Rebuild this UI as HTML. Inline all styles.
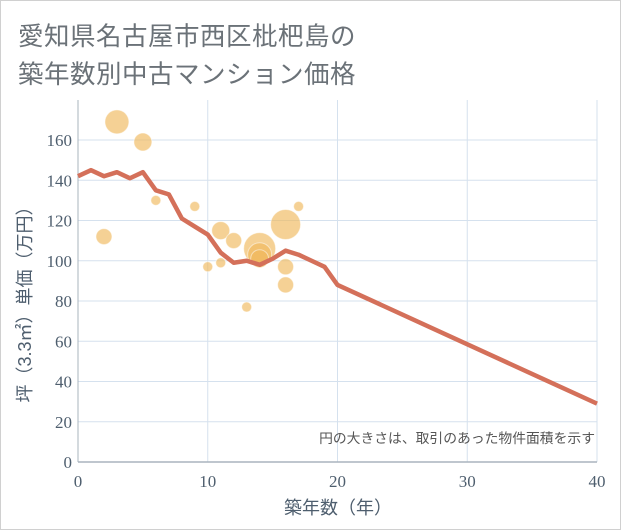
<!DOCTYPE html>
<html><head><meta charset="utf-8"><style>
html,body{margin:0;padding:0;background:#fff;}
#wrap{position:relative;width:619px;height:528px;border:1px solid #d0d0d0;background:#fff;overflow:hidden;}
.title{position:absolute;left:17px;font:25.5px "Liberation Sans","Noto Sans CJK JP",sans-serif;color:#6b7278;letter-spacing:0.5px;}
</style></head><body>
<div id="wrap">
<div class="title" style="top:15px">愛知県名古屋市西区枇杷島の</div>
<div class="title" style="top:53px">築年数別中古マンション価格</div>
<svg id="chart" width="621" height="530" style="position:absolute;left:-1px;top:-1px"></svg>
</div>
<script>
const xTicks=[0,10,20,30,40];
const yTicks=[0,20,40,60,80,100,120,140,160];
const lineYears=[0,1,2,3,4,5,6,7,8,9,10,11,12,13,14,15,16,17,18,19,20,40];
const linePrices=[142,145,142,144,141,144,135,133,121,117,113,104,99,100,98,101,105,103,100,97,88,29];
const bubbleYears=[3,5,2,6,9,11,12,10,11,13,14,14,14,16,17,16,16];
const bubblePrices=[169,159,112,130,127,115,110,97,99,77,106,103,101,118,127,97,88];
const bubbleSizes=[12,9,8,5,5,9,8,5,5,5,16,12,9,15,5,8,8];

const NS='http://www.w3.org/2000/svg';
const svg=document.getElementById('chart');
const X0=78,X1=597,Y0=462,Y1=140;
function sx(v){return X0+(v-0)/(40-0)*(X1-X0);}
function sy(v){return Y0-(v-0)/(160-0)*(Y0-Y1);}
function mk(t,a){const e=document.createElementNS(NS,t);for(const k in a)e.setAttribute(k,a[k]);svg.appendChild(e);return e;}

xTicks.forEach(t=>{
 const l=mk('line',{x1:sx(t),x2:sx(t),y1:100,y2:Y0,stroke:'#d5e1ee','stroke-width':1});
 
 
 const tx=mk('text',{x:sx(t),y:487,'text-anchor':'middle','font-family':'Liberation Serif, serif','font-size':17,fill:'#4e5e6e'});
 tx.textContent=t;
 
 
});
yTicks.forEach(t=>{
 const l=mk('line',{x1:X0,x2:X1,y1:sy(t),y2:sy(t),stroke:'#d5e1ee','stroke-width':1});
 
 
 const tx=mk('text',{x:72,y:sy(t)+6,'text-anchor':'end','font-family':'Liberation Serif, serif','font-size':17,fill:'#4e5e6e'});
 tx.textContent=t;
 
 
});
const ax=mk('line',{x1:X0,x2:X1,y1:Y0,y2:Y0,stroke:'#aab4be','stroke-width':1.5});


const ay=mk('line',{x1:X0,x2:X0,y1:100,y2:Y0,stroke:'#aab4be','stroke-width':1});



bubbleYears.forEach((yr,i)=>{
 const c=mk('circle',{cx:sx(yr),cy:sy(bubblePrices[i]),r:bubbleSizes[i],fill:'#f0b85c','fill-opacity':0.65,stroke:'#fff','stroke-opacity':0.5,'stroke-width':1});
 
 
});
const pts=lineYears.map((yr,i)=>sx(yr)+','+sy(linePrices[i])).join(' ');
const pl=mk('polyline',{points:pts,fill:'none',stroke:'#d4705a','stroke-width':4.5,'stroke-linejoin':'round'});



const note=mk('text',{x:595,y:443,'text-anchor':'end','font-family':'Liberation Sans, Noto Sans CJK JP, sans-serif','font-size':13.8,fill:'#555'});
note.textContent='円の大きさは、取引のあった物件面積を示す';


const xt=mk('text',{x:338,y:514,'text-anchor':'middle','font-family':'Liberation Sans, Noto Sans CJK JP, sans-serif','font-size':18,fill:'#4e5e6e'});
xt.textContent='築年数（年）';


const yt=mk('text',{x:0,y:0,'text-anchor':'middle','font-family':'Liberation Sans, Noto Sans CJK JP, sans-serif','font-size':18,fill:'#4e5e6e',transform:'translate(31,300) rotate(-90)'});
yt.textContent='坪（3.3㎡）単価（万円）';


</script>
</body></html>
